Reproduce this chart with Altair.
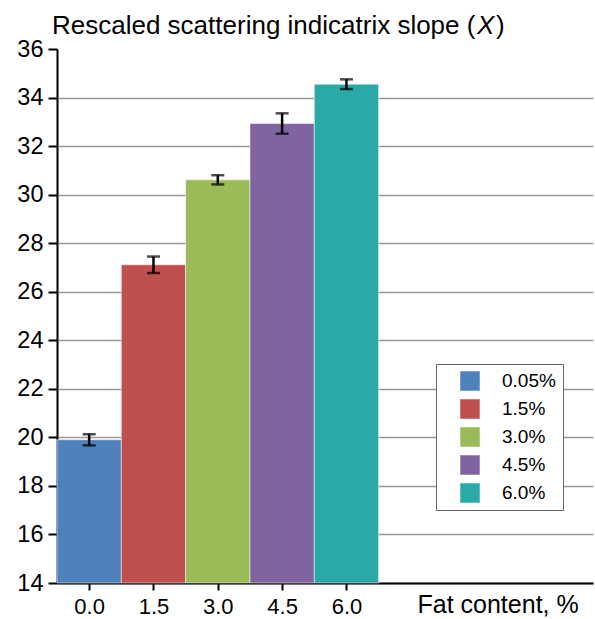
import altair as alt
import pandas as pd

# ---- data ----
fat_x = [0.0, 1.5, 3.0, 4.5, 6.0]
fat_labels = ["0.05%", "1.5%", "3.0%", "4.5%", "6.0%"]
slope_vals = [19.90, 27.11, 30.61, 32.93, 34.55]
slope_errs = [0.23, 0.34, 0.19, 0.42, 0.20]
bar_colors = ["#4F81BD", "#C0504D", "#9BBB59", "#8064A2", "#2AA9A9"]
y_ticks = list(range(14, 37))
x_ticks = [0.0, 1.5, 3.0, 4.5, 6.0]
title_main = "Rescaled scattering indicatrix slope ("
title_var = "X"
title_end = ")"
x_title = "Fat content, %"

FONT = "Liberation Sans"
half = 0.75
df = pd.DataFrame({
    "x": fat_x,
    "x0": [v - half for v in fat_x],
    "x1": [v + half for v in fat_x],
    "label": fat_labels,
    "val": slope_vals,
    "lo": [v - e for v, e in zip(slope_vals, slope_errs)],
    "hi": [v + e for v, e in zip(slope_vals, slope_errs)],
    "base": [14] * len(fat_x),
})

xscale = alt.Scale(domain=[-0.75, 11.75], nice=False, zero=False)
yscale = alt.Scale(domain=[14, 36], nice=False, zero=False)

x_axis = alt.Axis(
    values=x_ticks, format=".1f", grid=False,
    labelFontSize=22, labelFont=FONT, labelColor="black", labelPadding=6,
    tickSize=7, tickWidth=2, tickColor="black",
    domainColor="black", domainWidth=2,
    title=x_title, titleFont=FONT, titleFontSize=25, titleFontWeight="normal",
    titleColor="black", titleAlign="left", titleAnchor="start",
    titleBaseline="alphabetic", titleX=360, titleY=29,
)
y_axis = alt.Axis(
    values=y_ticks, title=None,
    labelExpr="datum.value % 2 == 0 ? datum.label : ''",
    labelFontSize=23.5, labelFont=FONT, labelColor="black", labelPadding=5,
    tickSize={"condition": {"test": "datum.value % 2 == 1", "value": 5}, "value": 9},
    tickWidth=2, tickColor="black",
    domainColor="black", domainWidth=2,
    grid=True, gridColor="#999999", gridWidth=1.5,
    gridOpacity={"condition": {"test": "datum.value % 2 == 1 || datum.value == 36", "value": 0}, "value": 1},
)

base = alt.Chart(df)

bars = base.mark_rect(stroke="white", strokeWidth=1, strokeOpacity=0.5).encode(
    x=alt.X("x0:Q", scale=xscale, axis=x_axis),
    x2="x1:Q",
    y=alt.Y("val:Q", scale=yscale, axis=y_axis),
    y2="base:Q",
    color=alt.Color(
        "label:N",
        scale=alt.Scale(domain=fat_labels, range=bar_colors),
        sort=fat_labels,
        legend=alt.Legend(
            title=None, orient="none", legendX=379, legendY=315,
            padding=7, symbolOffset=17, symbolType="square", symbolSize=380,
            symbolStrokeWidth=0, symbolOpacity=1,
            labelFont=FONT, labelFontSize=19, labelColor="black", labelOffset=22,
            rowPadding=8, strokeColor="#666666", fillColor="white",
        ),
    ),
)

err_rule = base.mark_rule(color="black", strokeWidth=2.5).encode(
    x="x:Q", y="lo:Q", y2="hi:Q"
)
cap_lo = base.mark_tick(color="black", thickness=2.5, size=13, orient="horizontal").encode(
    x="x:Q", y="lo:Q"
)
cap_hi = base.mark_tick(color="black", thickness=2.5, size=13, orient="horizontal").encode(
    x="x:Q", y="hi:Q"
)

t1 = alt.Chart(pd.DataFrame({"t": [title_main]})).mark_text(
    font=FONT, fontSize=26, align="left", baseline="alphabetic", color="black"
).encode(text="t:N", x=alt.value(-5), y=alt.value(-15))
t2 = alt.Chart(pd.DataFrame({"t": [title_var]})).mark_text(
    font=FONT, fontSize=26, fontStyle="italic", align="left", baseline="alphabetic", color="black"
).encode(text="t:N", x=alt.value(420), y=alt.value(-15))
t3 = alt.Chart(pd.DataFrame({"t": [title_end]})).mark_text(
    font=FONT, fontSize=26, align="left", baseline="alphabetic", color="black"
).encode(text="t:N", x=alt.value(439), y=alt.value(-15))

chart = alt.layer(bars, err_rule, cap_lo, cap_hi, t1, t2, t3).properties(
    width=536, height=534,
    padding={"left": 57, "top": 49, "right": 2, "bottom": 36},
    autosize=alt.AutoSizeParams(type="none"),
    background="white",
).configure_view(stroke=None)

chart.save("out.html", embed_options={"renderer": "svg", "actions": False})
